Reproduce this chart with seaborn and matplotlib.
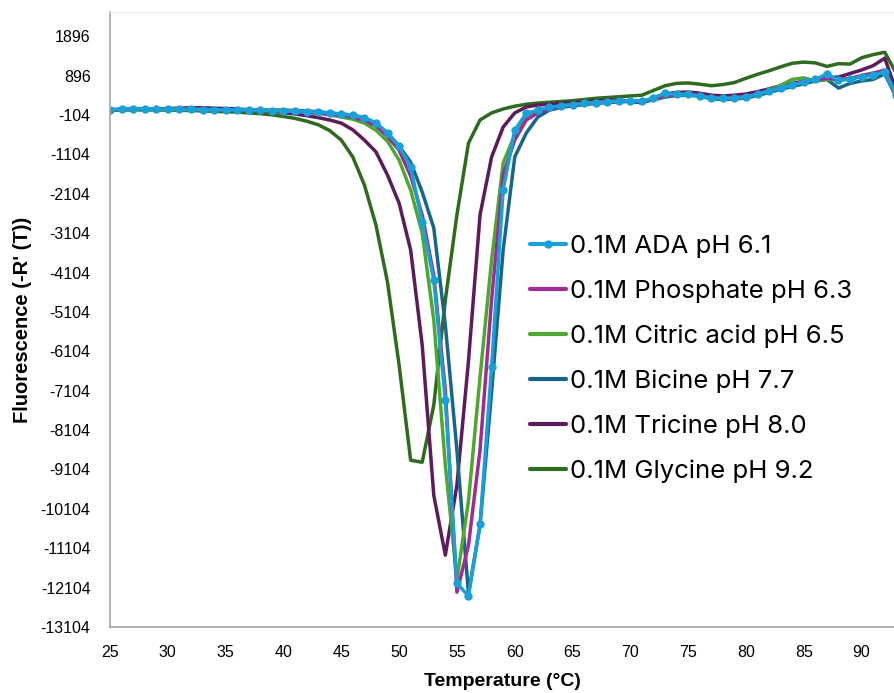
import matplotlib
matplotlib.use("Agg")
import matplotlib.pyplot as plt
import seaborn as sns
import pandas as pd

temps = list(range(25, 94))

ada = [30, 60, 60, 55, 50, 45, 45, 40, 35, 30,
       30, 30, 25, 20, 10, 0, -10, -20, -30, -50,
       -80, -110, -170, -300, -560, -900, -1420, -2820, -4300, -7340,
       -11990, -12320, -10500, -6500, -2000, -490, -60, 20, 90, 130,
       160, 190, 210, 230, 250, 260, 250, 330, 450, 420,
       420, 380, 330, 320, 330, 360, 420, 500, 580, 660,
       730, 800, 940, 780, 800, 870, 900, 1000, 400]
phosphate = [20, 40, 50, 50, 50, 50, 50, 50, 40, 30,
             30, 25, 20, 10, 0, -10, -20, -40, -60, -80,
             -110, -160, -240, -380, -640, -1000, -1650, -2640, -4170, -7090,
             -12220, -11030, -8610, -4800, -1630, -740, -230, -50, 60, 120,
             150, 180, 210, 230, 250, 260, 240, 310, 380, 420,
             430, 400, 340, 330, 340, 370, 430, 510, 590, 670,
             740, 790, 830, 800, 820, 900, 960, 1040, 420]
citric = [20, 30, 30, 30, 30, 30, 30, 30, 30, 30,
          30, 30, 30, 30, 30, 20, 0, -20, -50, -100,
          -155, -210, -310, -490, -770, -1250, -2010, -3100, -5310, -8990,
          -11900, -9900, -6760, -3790, -1320, -610, -155, 0, 80, 130,
          160, 190, 220, 230, 250, 260, 240, 300, 370, 410,
          420, 390, 330, 310, 320, 350, 420, 520, 650, 800,
          840, 760, 800, 780, 820, 880, 950, 1020, 380]
bicine = [20, 40, 40, 40, 40, 40, 40, 40, 40, 35,
          30, 30, 30, 25, 20, 20, 10, 0, -20, -50,
          -80, -105, -180, -330, -560, -890, -1300, -2060, -2970, -5440,
          -8610, -12250, -10520, -7140, -3530, -1170, -560, -155, 20, 90,
          130, 160, 190, 210, 230, 240, 220, 280, 350, 390,
          400, 370, 310, 290, 300, 330, 390, 470, 550, 620,
          690, 760, 800, 580, 700, 760, 800, 940, 350]
tricine = [20, 30, 40, 40, 50, 60, 70, 80, 80, 70,
           60, 50, 30, 10, -10, -40, -80, -120, -170, -230,
           -310, -480, -740, -1040, -1630, -2340, -3530, -5950, -9760, -11280,
           -9500, -6350, -2640, -1170, -410, -50, 100, 150, 170, 190,
           210, 230, 250, 270, 280, 250, 200, 330, 430, 470,
           480, 450, 400, 380, 400, 430, 490, 560, 640, 700,
           750, 800, 840, 860, 950, 1040, 1150, 1340, 500]
glycine = [20, 30, 30, 30, 25, 20, 15, 10, 0, -10,
           -20, -30, -50, -70, -100, -140, -190, -260, -350, -500,
           -740, -1170, -1880, -2900, -4350, -6450, -8870, -8920, -7470, -4800,
           -2640, -820, -230, -50, 50, 120, 170, 200, 220, 240,
           260, 290, 320, 340, 360, 380, 400, 520, 640, 700,
           710, 680, 640, 670, 720, 830, 930, 1020, 1120, 1210,
           1240, 1220, 1130, 1200, 1190, 1350, 1430, 1490, 950]

labels = ["0.1M ADA pH 6.1", "0.1M Phosphate pH 6.3", "0.1M Citric acid pH 6.5",
          "0.1M Bicine pH 7.7", "0.1M Tricine pH 8.0", "0.1M Glycine pH 9.2"]
colors = ["#1AA0D8", "#A02B93", "#4EA72E", "#17668A", "#5E1B5C", "#2E6B1E"]
series = [ada, phosphate, citric, bicine, tricine, glycine]
yticks = list(range(-13104, 2000, 1000))
xticks = list(range(25, 95, 5))

sns.set_style("white")
plt.rcParams["text.color"] = "black"
fig = plt.figure(figsize=(8.94, 6.93), dpi=100)
ax = fig.add_axes([110 / 894, 66 / 693, 1 - 110 / 894, 615 / 693])

for i, (lab, vals) in enumerate(zip(labels, series)):
    df = pd.DataFrame({"T": temps, "F": vals})
    sns.lineplot(data=df, x="T", y="F", ax=ax, color=colors[i], linewidth=2.5,
                 marker="o" if i == 0 else None, markersize=6, markeredgewidth=0,
                 label=lab, zorder=2 + (5 - i) * 0.1)

ax.set_xlim(25, 92.8)
ax.set_ylim(-13104, 2512)
ax.set_xticks(xticks)
ax.set_yticks(yticks)
tick_font = ["Liberation Sans Narrow", "Liberation Sans"]
ax.set_xticklabels([str(t) for t in xticks], family=tick_font, fontsize=11.5, color="black")
ax.set_yticklabels([str(t) for t in yticks], family=tick_font, fontsize=11.5, color="black")
ax.tick_params(axis="x", length=0, pad=13)
ax.tick_params(axis="y", length=0, pad=14)
ax.set_xlabel("Temperature (°C)", family=tick_font, fontweight="bold", fontsize=14,
              labelpad=9, color="black")
ax.set_ylabel("Fluorescence (-R' (T))", family=["Liberation Sans"], fontweight="bold",
              fontsize=14.5, labelpad=6, color="black")

for s in ["left", "bottom"]:
    ax.spines[s].set_color("#A6A6A6")
    ax.spines[s].set_linewidth(1.2)
ax.spines["top"].set_color("#EEEEEE")
ax.spines["top"].set_linewidth(1.0)
ax.spines["right"].set_visible(False)

leg = ax.legend(loc="upper left", bbox_to_anchor=(530 / 894, 1 - 235 / 693),
                bbox_transform=fig.transFigure, frameon=False, borderpad=0,
                borderaxespad=0, handlelength=1.4, handletextpad=0.15,
                labelspacing=0.84, prop={"family": "Inter", "size": 18.5})
for t in leg.get_texts():
    t.set_color("black")
for h in leg.get_lines():
    h.set_linewidth(3)

fig.savefig("out.png", dpi=100)
